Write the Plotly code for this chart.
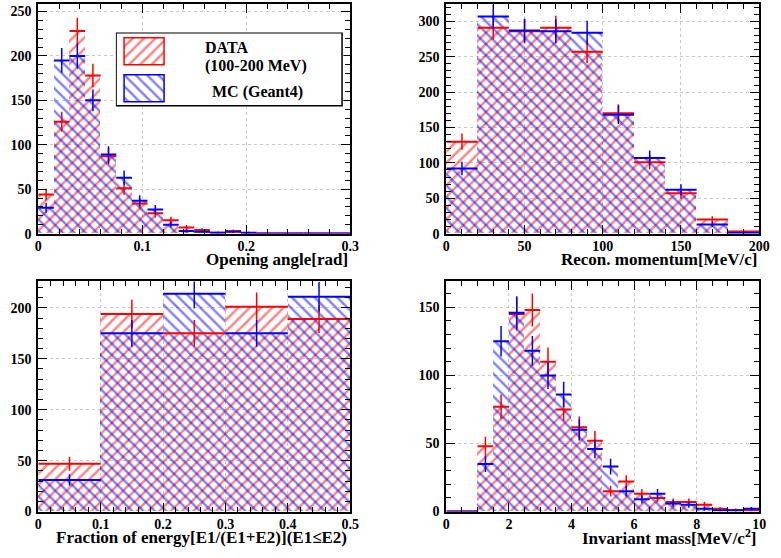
import numpy as np
import plotly.graph_objects as go

# ---- histogram contents -------------------------------------------------
# Opening angle [rad], 20 bins of 0.015 from 0 to 0.3
angle_edges = np.linspace(0.0, 0.3, 21)
angle_data = [44, 126, 228, 178, 87, 51, 34, 23, 15, 7, 4, 1, 3, 0, 0, 0, 0, 0, 0, 0]
angle_mc = [29, 195, 200, 150, 89, 63, 37, 27, 10, 3, 2, 1, 2, 1, 0, 0, 0, 0, 0, 0]

# Reconstructed momentum [MeV/c], 10 bins of 20 from 0 to 200
mom_edges = np.linspace(0.0, 200.0, 11)
mom_data = [130, 291, 286, 291, 257, 170, 101, 57, 20, 3]
mom_mc = [92, 307, 287, 286, 284, 168, 107, 62, 13, 1]

# Energy fraction E1/(E1+E2), 5 bins of 0.1 from 0 to 0.5
frac_edges = np.linspace(0.0, 0.5, 6)
frac_data = [47, 194, 175, 201, 189]
frac_mc = [31, 175, 214, 175, 211]

# Invariant mass [MeV/c^2], 20 bins of 0.5 from 0 to 10
mass_edges = np.linspace(0.0, 10.0, 21)
mass_data = [0, 0, 48, 77, 145, 148, 110, 75, 62, 52, 15, 22, 13, 10, 7, 7, 5, 2, 1, 1]
mass_mc = [0, 0, 35, 125, 146, 118, 100, 86, 60, 46, 33, 15, 9, 13, 6, 5, 2, 1, 1, 2]

RED = "#ff0000"
BLUE = "#0000ff"
SERIF = "Liberation Serif"
W, H = 781, 558
HATCH_SIZE = 8
HATCH_SOLID = 0.3

fig = go.Figure()


def px_x(v):
    return v / W


def px_y(v):
    return 1 - v / H


def hatch(shape, col):
    return dict(shape=shape, fgcolor=col, bgcolor="rgba(0,0,0,0)",
                size=HATCH_SIZE, solidity=HATCH_SOLID, fillmode="overlay")


def add_hist(edges, data, mc, xa, ya):
    edges = np.asarray(edges)
    centers = 0.5 * (edges[:-1] + edges[1:])
    widths = np.diff(edges)
    ax = dict(xaxis=xa, yaxis=ya)
    for vals, col, shape in ((data, RED, "/"), (mc, BLUE, "\\")):
        fig.add_trace(go.Bar(
            x=centers, y=vals, width=widths, showlegend=False,
            marker=dict(color="rgba(0,0,0,0)", line=dict(width=0),
                        pattern=hatch(shape, col)),
            hoverinfo="skip", **ax))
    for vals, col in ((data, RED), (mc, BLUE)):
        v = np.asarray(vals, dtype=float)
        fig.add_trace(go.Scatter(
            x=centers, y=v, mode="markers", showlegend=False,
            marker=dict(size=1, color="rgba(0,0,0,0)"),
            error_x=dict(type="data", array=widths / 2, color=col, thickness=2, width=0),
            error_y=dict(type="data", array=np.sqrt(v), color=col, thickness=1.5, width=0),
            hoverinfo="skip", **ax))


add_hist(angle_edges, angle_data, angle_mc, "x", "y")
add_hist(mom_edges, mom_data, mom_mc, "x2", "y2")
add_hist(frac_edges, frac_data, frac_mc, "x3", "y3")
add_hist(mass_edges, mass_data, mass_mc, "x4", "y4")

tickfont = dict(family=SERIF, size=14, color="black")


def axis(domain, rng, dtick, minor_dtick, anchor, standoff):
    return dict(domain=domain, range=rng, anchor=anchor, dtick=dtick, tick0=0,
                showline=True, linewidth=2, linecolor="black", mirror="allticks",
                ticks="inside", ticklen=9, tickwidth=1, tickcolor="black",
                tickfont=tickfont, tickprefix="<b>", ticksuffix="</b>",
                ticklabelstandoff=standoff,
                showgrid=True, gridcolor="#c8c8c8", griddash="dot",
                gridwidth=1, zeroline=False, fixedrange=True,
                minor=dict(dtick=minor_dtick, tick0=0, ticks="inside", ticklen=5,
                           tickcolor="black", showgrid=False))


xdL = [px_x(35), px_x(353)]
xdR = [px_x(451), px_x(770)]
ydT = [px_y(237), px_y(4.5)]
ydB = [px_y(519), px_y(285.5)]

layout = dict(
    width=W, height=H, margin=dict(l=0, r=0, t=0, b=0),
    paper_bgcolor="white", plot_bgcolor="white", barmode="overlay", bargap=0,
    showlegend=False,
    xaxis=axis(xdL, [0, 0.3], 0.1, 0.02, "y", -1),
    yaxis=axis(ydT, [0, 258], 50, 10, "x", 2),
    xaxis2=axis(xdR, [0, 200], 50, 10, "y2", -1),
    yaxis2=axis(ydT, [0, 324], 50, 10, "x2", 2),
    xaxis3=axis(xdL, [0, 0.5], 0.1, 0.02, "y3", -1),
    yaxis3=axis(ydB, [0, 226], 50, 10, "x3", 2),
    xaxis4=axis(xdR, [0, 10], 2, 0.5, "y4", -1),
    yaxis4=axis(ydB, [0, 169], 50, 10, "x4", 2),
)

# Legend box on its own pixel-scaled axes inside the first panel
layout["xaxis5"] = dict(domain=[px_x(114), px_x(346)], range=[114, 346], visible=False,
                        anchor="y5", fixedrange=True)
layout["yaxis5"] = dict(domain=[px_y(109), px_y(33)], range=[H - 109, H - 33], visible=False,
                        anchor="x5", fixedrange=True)

fig.add_trace(go.Bar(x=[230], y=[74], base=[H - 108], width=[230], xaxis="x5", yaxis="y5",
                     marker=dict(color="white", line=dict(color="black", width=1.5)),
                     hoverinfo="skip", showlegend=False))
for (top, bot), col, shape in (((39, 66), RED, "/"), ((77, 104), BLUE, "\\")):
    fig.add_trace(go.Bar(x=[143.5], y=[bot - top], base=[H - bot], width=[41],
                         xaxis="x5", yaxis="y5", hoverinfo="skip", showlegend=False,
                         marker=dict(color="rgba(0,0,0,0)", line=dict(color=col, width=1.5),
                                     pattern=hatch(shape, col))))

fig.update_layout(**layout)

legend_font = dict(family=SERIF, size=16, color="black", weight="bold")
title_font = dict(family=SERIF, size=17, color="black", weight="bold")
ann = [
    dict(text="DATA", x=px_x(227), y=px_y(48), font=legend_font),
    dict(text="(100-200 MeV)", x=px_x(257), y=px_y(67), font=legend_font),
    dict(text="MC (Geant4)", x=px_x(258), y=px_y(93), font=legend_font),
]
for a in ann:
    a.update(xref="paper", yref="paper", showarrow=False, xanchor="center", yanchor="middle")

titles = [
    ("Opening angle[rad]", 353, 263),
    ("Recon. momentum[MeV/c]", 770, 263),
    ("Fraction of energy[E1/(E1+E2)](E1\u2264E2)", 352, 545),
    ("Invariant mass[MeV/c<sup>2</sup>]", 770, 545),
]
for text, xr, yc in titles:
    ann.append(dict(text=text, x=px_x(xr), y=px_y(yc), xref="paper", yref="paper",
                    showarrow=False, xanchor="right", yanchor="middle", font=title_font))

fig.update_layout(annotations=ann)
fig.write_html("out.html")
